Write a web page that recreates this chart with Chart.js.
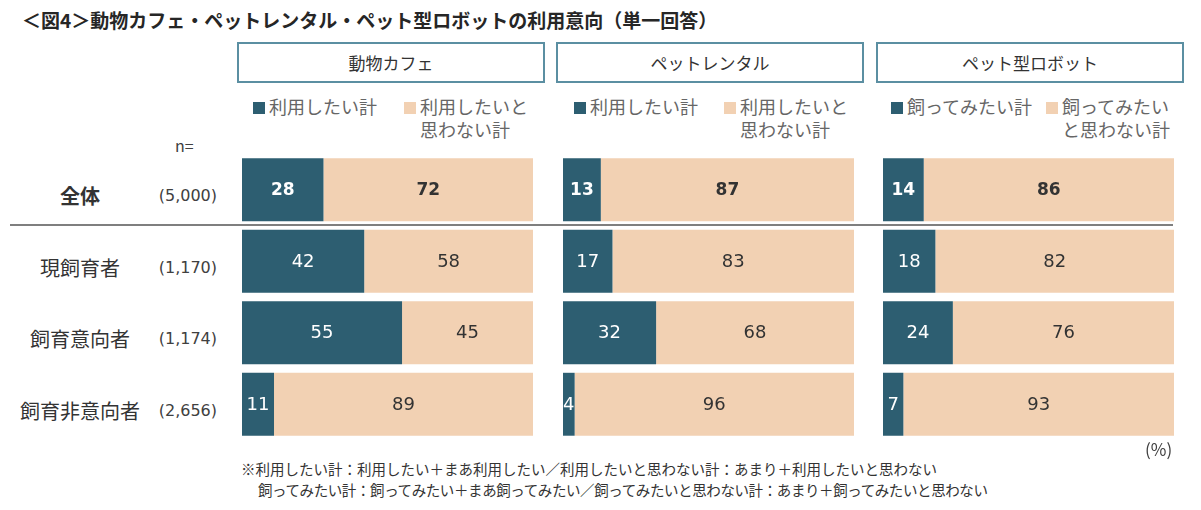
<!DOCTYPE html>
<html>
<head>
<meta charset="utf-8">
<script src="https://cdn.jsdelivr.net/npm/chart.js@4.4.0/dist/chart.umd.min.js"></script>
<style>
  body { margin: 0; width: 1201px; height: 510px; background: #fff; position: relative; overflow: hidden;
         font-family: "Noto Sans CJK JP", "Noto Sans", sans-serif; color: #404040; }
  .abs { position: absolute; white-space: nowrap; }
  .title { left: 22px; top: 7px; font-size: 19px; font-weight: bold; color: #262626; line-height: 26px; }
  .head { height: 37px; border: 2px solid #5b8fa2; font-size: 17px; line-height: 37px; text-align: center; color: #333; }
  .leg { font-size: 18px; line-height: 23px; color: #666; }
  .sw { position: absolute; width: 12px; height: 12px; }
  .rowlab { font-size: 20px; width: 160px; text-align: center; line-height: 26px; color: #333; }
  .nval { font-family: "DejaVu Sans", sans-serif; font-size: 16px; text-align: right; width: 80px; line-height: 26px; color: #404040; }
  .sep { left: 10px; top: 224px; width: 1163px; height: 2px; background: #7f7f7f; }
  .note { font-size: 14.5px; line-height: 20px; color: #333; }
  .panel { position: absolute; top: 154px; width: 291px; height: 286px; }
</style>
</head>
<body>
<div class="abs title">＜図4＞動物カフェ・ペットレンタル・ペット型ロボットの利用意向（単一回答）</div>
<div id="heads"></div>
<div id="legends"></div>
<div class="abs" style="left:175px;top:133px;font-size:16px;color:#404040;">n=</div>
<div id="rows"></div>
<div class="abs sep"></div>
<div class="panel" style="left:242px;"><canvas id="c0"></canvas></div>
<div class="panel" style="left:563px;"><canvas id="c1"></canvas></div>
<div class="panel" style="left:883px;"><canvas id="c2"></canvas></div>
<div class="abs" style="left:1145px;top:436px;font-size:17px;color:#404040;">(%)</div>
<div class="abs note" style="left:241px;top:459px;">※利用したい計：利用したい＋まあ利用したい／利用したいと思わない計：あまり＋利用したいと思わない</div>
<div class="abs note" style="left:258px;top:480px;letter-spacing:-0.4px;">飼ってみたい計：飼ってみたい＋まあ飼ってみたい／飼ってみたいと思わない計：あまり＋飼ってみたいと思わない</div>

<script>
const categories = ['全体', '現飼育者', '飼育意向者', '飼育非意向者'];
const sampleSizes = ['(5,000)', '(1,170)', '(1,174)', '(2,656)'];
const panelTitles = ['動物カフェ', 'ペットレンタル', 'ペット型ロボット'];
const legendYes = ['利用したい計', '利用したい計', '飼ってみたい計'];
const legendNo = [['利用したいと', '思わない計'], ['利用したいと', '思わない計'], ['飼ってみたい', 'と思わない計']];

const cafeYes = [28, 42, 55, 11];
const cafeNo = [72, 58, 45, 89];
const rentalYes = [13, 17, 32, 4];
const rentalNo = [87, 83, 68, 96];
const robotYes = [14, 18, 24, 7];
const robotNo = [86, 82, 76, 93];

const darkColor = '#2d5e71';
const lightColor = '#f2d1b3';

// header boxes, legends
const headLeft = [237, 556, 876];
const legLeft = [253, 574, 891];
const leg2Left = [404, 724, 1046];
let hHtml = '', lHtml = '';
panelTitles.forEach((t, i) => {
  hHtml += `<div class="abs head" style="left:${headLeft[i]}px;top:42px;width:${304}px;">${t}</div>`;
  lHtml += `<div class="sw" style="left:${legLeft[i]}px;top:102px;background:${darkColor}"></div>`;
  lHtml += `<div class="abs leg" style="left:${legLeft[i] + 16}px;top:95px;">${legendYes[i]}</div>`;
  lHtml += `<div class="sw" style="left:${leg2Left[i]}px;top:102px;background:${lightColor}"></div>`;
  lHtml += `<div class="abs leg" style="left:${leg2Left[i] + 16}px;top:95px;">${legendNo[i][0]}<br>${legendNo[i][1]}</div>`;
});
document.getElementById('heads').innerHTML = hHtml;
document.getElementById('legends').innerHTML = lHtml;

// row labels
let rHtml = '';
categories.forEach((c, i) => {
  const top = 183 + i * 71.5;
  rHtml += `<div class="abs rowlab" style="left:0px;top:${top}px;${i == 0 ? 'font-weight:bold;' : ''}">${c}</div>`;
  rHtml += `<div class="abs nval" style="left:137px;top:${top}px;">${sampleSizes[i]}</div>`;
});
document.getElementById('rows').innerHTML = rHtml;

// labels inside segments
const segLabels = {
  id: 'segLabels',
  afterDatasetsDraw(chart) {
    const ctx = chart.ctx;
    ctx.save();
    ctx.textAlign = 'center';
    ctx.textBaseline = 'middle';
    chart.data.datasets.forEach((ds, di) => {
      chart.getDatasetMeta(di).data.forEach((bar, i) => {
        ctx.font = (i == 0 ? 'bold 17px' : '18px') + ' "DejaVu Sans", sans-serif';
        ctx.fillStyle = di == 0 ? '#ffffff' : '#333333';
        ctx.fillText(ds.data[i], (bar.x + bar.base) / 2, bar.y + 1);
      });
    });
    ctx.restore();
  }
};

function makeChart(id, yes, no) {
  new Chart(document.getElementById(id).getContext('2d'), {
    type: 'bar',
    data: {
      labels: categories,
      datasets: [
        { data: yes, backgroundColor: darkColor, barPercentage: 0.88, categoryPercentage: 1 },
        { data: no, backgroundColor: lightColor, barPercentage: 0.88, categoryPercentage: 1 }
      ]
    },
    options: {
      indexAxis: 'y',
      responsive: true,
      maintainAspectRatio: false,
      animation: false,
      layout: { padding: 0 },
      scales: {
        x: { stacked: true, min: 0, max: 100, display: false },
        y: { stacked: true, display: false }
      },
      plugins: { legend: { display: false }, tooltip: { enabled: false } }
    },
    plugins: [segLabels]
  });
}
makeChart('c0', cafeYes, cafeNo);
makeChart('c1', rentalYes, rentalNo);
makeChart('c2', robotYes, robotNo);
</script>
</body>
</html>
